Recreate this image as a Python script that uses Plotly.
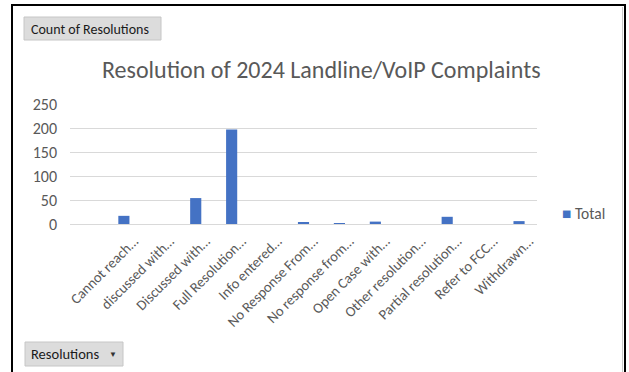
import plotly.graph_objects as go

# ---- data ----
categories = [" ", "Cannot reach…", "discussed with…", "Discussed with…", "Full Resolution…",
              "Info entered…", "No Response From…", "No response from…", "Open Case with…",
              "Other resolution…", "Partial resolution…", "Refer to FCC…", "Withdrawn…"]
totals = [0, 17, 0, 54, 197, 0, 3, 2, 5, 0, 15, 0, 6]
y_ticks = [0, 50, 100, 150, 200, 250]
series_name = "Total"
title_text = "Resolution of 2024 Landline/VoIP Complaints"
BAR_COLOR = "#4472C4"

W, H = 629, 372
L, R, T, B = 70, 92, 104, 148
PW, PH = W - L - R, H - T - B

def px(x):
    return (x - L) / PW

def py(y):
    return (H - B - y) / PH

FONT = "Carlito, Calibri, Lato, sans-serif"
GREY = "#595959"

fig = go.Figure()
fig.add_trace(go.Bar(x=categories, y=totals, name=series_name, showlegend=False,
                     marker=dict(color=BAR_COLOR, line=dict(width=0))))

fig.update_layout(
    width=W, height=H,
    margin=dict(l=L, r=R, t=T, b=B),
    paper_bgcolor="white", plot_bgcolor="white",
    bargap=0.69,
    font=dict(family=FONT, color=GREY),
    showlegend=False,
)
fig.update_yaxes(range=[0, 250], tickvals=y_ticks, showgrid=True,
                 gridcolor="#d9d9d9", gridwidth=1, zeroline=True,
                 zerolinecolor="#d9d9d9", zerolinewidth=1, showline=False,
                 ticklabelstandoff=12,
                 tickfont=dict(size=16, color=GREY, family=FONT), fixedrange=True)
fig.update_xaxes(type="category", tickangle=-45, showgrid=False, showline=False,
                 ticklabelshift=10, ticklabelstandoff=5,
                 tickfont=dict(size=14.5, color=GREY, family=FONT))

shapes = []
# outer frame
shapes.append(dict(type="rect", xref="paper", yref="paper",
                   x0=px(12), x1=px(625), y0=py(385), y1=py(5),
                   line=dict(color="black", width=2), fillcolor="rgba(0,0,0,0)", layer="above"))
shapes.append(dict(type="line", xref="paper", yref="paper",
                   x0=px(622.5), x1=px(622.5), y0=py(385), y1=py(7),
                   line=dict(color="#c8c8c8", width=1)))
# pivot field buttons
shapes.append(dict(type="rect", xref="paper", yref="paper",
                   x0=px(24), x1=px(161), y0=py(40), y1=py(17),
                   line=dict(color="#c6c6c6", width=1), fillcolor="#dcdcdc"))
shapes.append(dict(type="rect", xref="paper", yref="paper",
                   x0=px(25), x1=px(123), y0=py(366), y1=py(342),
                   line=dict(color="#c6c6c6", width=1), fillcolor="#dcdcdc"))
fig.update_layout(shapes=shapes)

annotations = [
    dict(text=title_text, xref="paper", yref="paper", x=px(321), y=py(70),
         xanchor="center", yanchor="middle", showarrow=False,
         font=dict(size=24, color=GREY, family=FONT)),
    dict(text="Count of Resolutions", xref="paper", yref="paper", x=px(29), y=py(29),
         xanchor="left", yanchor="middle", showarrow=False,
         font=dict(size=14, color="#1a1a1a", family=FONT)),
    dict(text="Resolutions", xref="paper", yref="paper", x=px(29), y=py(354),
         xanchor="left", yanchor="middle", showarrow=False,
         font=dict(size=14.5, color="#1a1a1a", family=FONT)),
    dict(text="▼", xref="paper", yref="paper", x=px(113), y=py(354),
         xanchor="center", yanchor="middle", showarrow=False,
         font=dict(size=8, color="#333333", family=FONT)),
    # legend
    dict(text=f"<span style='color:{BAR_COLOR}'>■</span> {series_name}", xref="paper", yref="paper",
         x=px(560), y=py(213), xanchor="left", yanchor="middle", showarrow=False,
         font=dict(size=15.5, color=GREY, family=FONT)),
]
fig.update_layout(annotations=annotations)

fig.write_html("out.html")
